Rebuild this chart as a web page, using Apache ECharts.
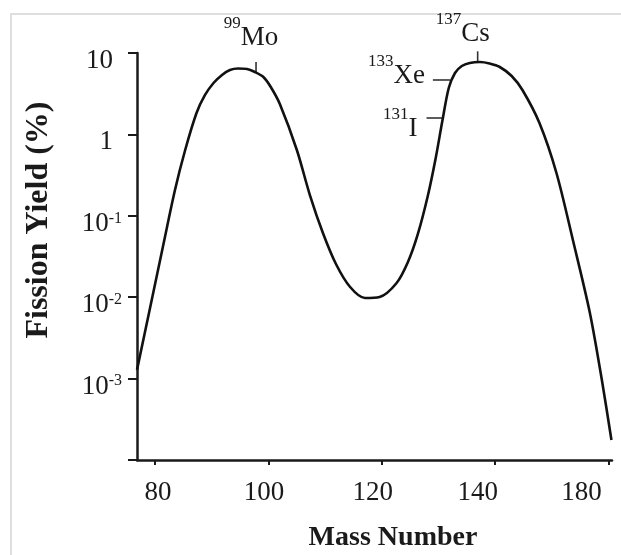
<!DOCTYPE html>
<html>
<head>
<meta charset="utf-8">
<script src="https://cdn.jsdelivr.net/npm/echarts@6/dist/echarts.min.js"></script>
<style>
html,body{margin:0;padding:0;background:#fff;}
#c{width:621px;height:555px;}
</style>
</head>
<body>
<div id="c"></div>
<script>
// ---- data ----
const massNumbers = [76.8, 79.1, 81.4, 83.5, 85.3, 87.3, 88.8, 90.3, 91.8, 93.2, 94.6, 96.2, 97.6, 99.1, 100.4, 102.0, 105.0, 107.3, 109.6, 111.9, 114.4, 117.0, 119.6, 122.6, 124.6, 126.3, 128.1, 129.5, 130.7, 131.8, 132.9, 134.1, 135.5, 137.3, 139.0, 140.8, 142.9, 144.8, 147.8, 150.8, 153.7, 156.7, 158.9, 160.5];
const fissionYield = [0.00128, 0.00736, 0.0426, 0.2075, 0.643, 1.83, 3.05, 4.28, 5.37, 6.18, 6.45, 6.36, 5.84, 5.07, 3.82, 2.36, 0.643, 0.180, 0.0615, 0.0256, 0.01334, 0.00978, 0.01006, 0.01494, 0.02706, 0.0581, 0.175, 0.513, 1.503, 3.715, 5.68, 6.92, 7.54, 7.75, 7.43, 6.73, 5.22, 3.51, 1.38, 0.3356, 0.0504, 0.0064, 0.000883, 0.000176];
const xTickValues = [80, 100, 120, 140, 160];
const xTickLabels = ['80', '100', '120', '140', '180'];
const xLabelPositions = [80.5, 99.2, 118.4, 136.9, 155.2];
const yTickValues = [0.0001, 0.001, 0.01, 0.1, 1, 10];
const nuclideMass = [97.8, 136.9, 132.0, 130.7];
const nuclideYield = [5.85, 7.9, 4.66, 1.59];
const nuclideIsotope = ['99', '137', '133', '131'];
const nuclideSymbol = ['Mo', 'Cs', 'Xe', 'I'];
const xAxisTitle = 'Mass Number';
const yAxisTitle = 'Fission Yield (%)';

// ---- chart ----
const FONT = '"Liberation Serif", "Times New Roman", serif';
const INK = '#1a1a1a';
const chart = echarts.init(document.getElementById('c'), null, {renderer: 'canvas'});

const option = {
  animation: false,
  backgroundColor: '#ffffff',
  grid: {left: 137, right: 9, top: 53, bottom: 95, containLabel: false, outerBoundsMode: 'none'},
  xAxis: {
    type: 'value', min: 76.8, max: 160.6,
    axisLine: {show: true, onZero: false, lineStyle: {color: INK, width: 2.5}},
    axisTick: {show: true, customValues: xTickValues, length: 5, lineStyle: {color: INK, width: 2}},
    axisLabel: {
      customValues: xLabelPositions, margin: 19,
      fontFamily: FONT, fontSize: 27, color: INK,
      formatter: v => xTickLabels[xLabelPositions.indexOf(v)] || ''
    },
    splitLine: {show: false}
  },
  yAxis: {
    type: 'log', logBase: 10, min: 0.0001, max: 10,
    axisLine: {show: true, onZero: false, lineStyle: {color: INK, width: 2.5}},
    axisTick: {show: true, customValues: yTickValues, length: 9, lineStyle: {color: INK, width: 2}},
    axisLabel: {
      customValues: yTickValues, margin: 15, padding: [16, 0, 0, 0],
      formatter: v => {
        const e = Math.round(Math.log10(v));
        if (e <= -4) return '';
        if (e === 1) return '{n|10}{pad| }';
        if (e === 0) return '{n|1}{pad| }';
        return '{n|10}{s|' + e + '}';
      },
      rich: {
        n: {fontFamily: FONT, fontSize: 27, lineHeight: 27, color: INK},
        s: {fontFamily: FONT, fontSize: 16, lineHeight: 16, verticalAlign: 'top', color: INK},
        pad: {width: 9, fontSize: 10}
      }
    },
    splitLine: {show: false}
  },
  series: [{
    type: 'line',
    data: massNumbers.map((m, i) => [m, fissionYield[i]]),
    showSymbol: false,
    smooth: 0.3,
    clip: false,
    lineStyle: {color: '#111', width: 2.6},
    silent: true
  }]
};
chart.setOption(option);

// annotation layout (offsets in pixels relative to the anchor point on the curve)
const annLayout = {
  Mo: {dir: 'up', len: 10, dx: -5, top: -57},
  Cs: {dir: 'up', len: 10, dx: -15, top: -50},
  Xe: {dir: 'left', len: 17, right: -25, top: -27},
  I:  {dir: 'left', len: 16, right: -25, top: -12}
};

function buildGraphics() {
  const els = [];
  els.push({type: 'rect', silent: true, z: -1,
    shape: {x: 11, y: 14, width: 800, height: 800},
    style: {fill: null, stroke: '#dedede', lineWidth: 2}});
  els.push({type: 'text', silent: true, x: 393, y: 538,
    style: {text: xAxisTitle, font: 'bold 28px ' + FONT, fill: INK, align: 'center', verticalAlign: 'middle'}});
  els.push({type: 'text', silent: true, x: 39, y: 220, rotation: Math.PI / 2,
    style: {text: yAxisTitle, font: 'bold 32px ' + FONT, fill: INK, align: 'center', verticalAlign: 'middle'}});
  nuclideSymbol.forEach((sym, i) => {
    const p = chart.convertToPixel({gridIndex: 0}, [nuclideMass[i], nuclideYield[i]]);
    const L = annLayout[sym];
    const rich = {
      s: {fontFamily: FONT, fontSize: 17, lineHeight: 17, verticalAlign: 'top', fill: INK},
      m: {fontFamily: FONT, fontSize: 27, lineHeight: 46, fill: INK}
    };
    const txt = '{s|' + nuclideIsotope[i] + '}{m|' + sym + '}';
    if (L.dir === 'up') {
      els.push({type: 'line', silent: true, shape: {x1: p[0], y1: p[1], x2: p[0], y2: p[1] - L.len},
        style: {stroke: '#333', lineWidth: 1.6}});
      els.push({type: 'text', silent: true, x: p[0] + L.dx, y: p[1] + L.top,
        style: {text: txt, rich: rich, align: 'center', verticalAlign: 'top'}});
    } else {
      els.push({type: 'line', silent: true, shape: {x1: p[0] - L.len, y1: p[1], x2: p[0], y2: p[1]},
        style: {stroke: '#333', lineWidth: 1.6}});
      els.push({type: 'text', silent: true, x: p[0] + L.right, y: p[1] + L.top,
        style: {text: txt, rich: rich, align: 'right', verticalAlign: 'top'}});
    }
  });
  chart.setOption({graphic: {elements: els}});
}
buildGraphics();
</script>
</body>
</html>
